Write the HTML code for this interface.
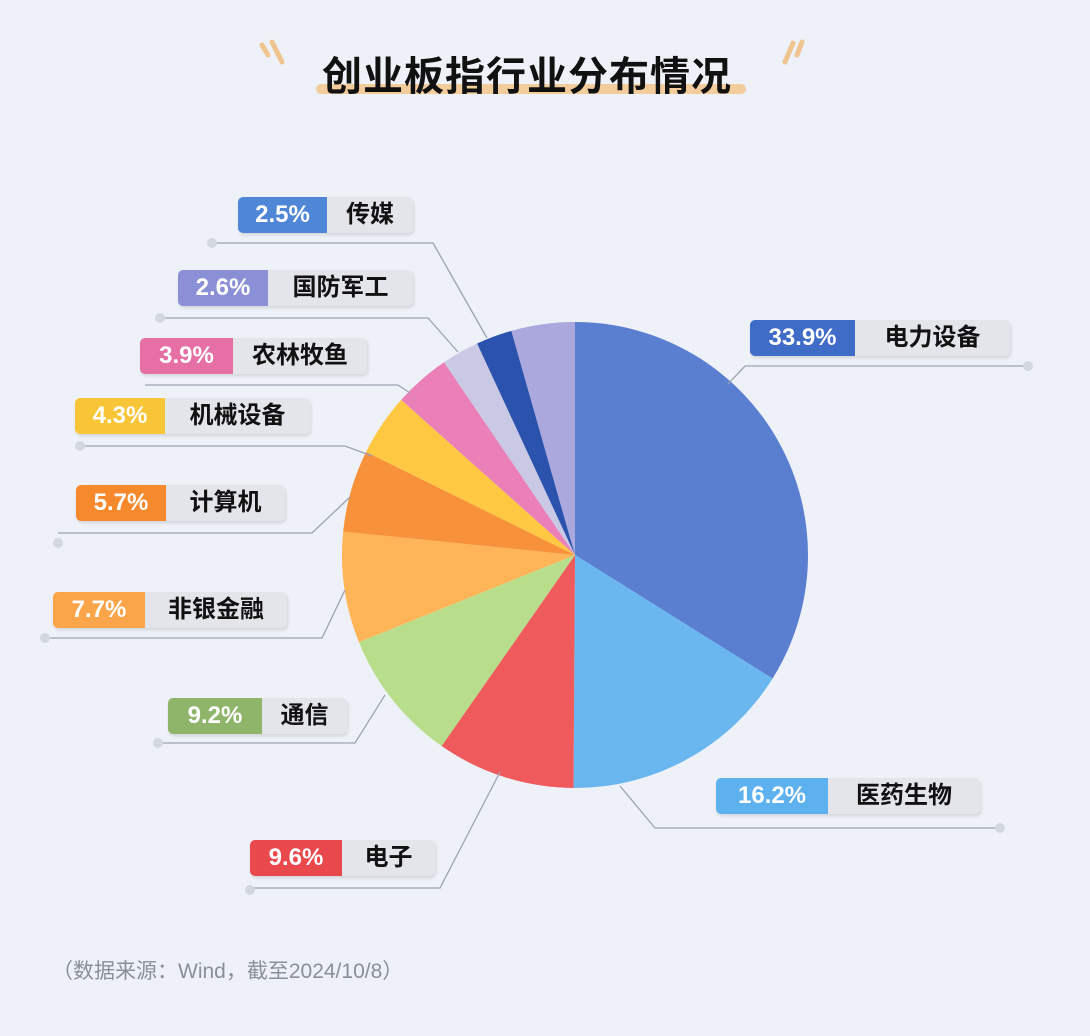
<!DOCTYPE html>
<html><head><meta charset="utf-8"><style>
body{margin:0;width:1090px;height:1036px;background:#eef2f8;font-family:"Liberation Sans","Noto Sans CJK SC",sans-serif;position:relative;overflow:hidden}
.t{position:absolute;left:-18px;width:1090px;top:44px;text-align:center;font-size:40px;font-weight:bold;color:#111;letter-spacing:1px}
.bar{position:absolute;left:316px;top:84px;width:430px;height:10px;background:#f3cc9c;border-radius:5px}
.lab{position:absolute;height:36px;display:flex;border-radius:5px;overflow:hidden;box-shadow:1px 2px 3px rgba(0,0,0,.12)}
.lab .p{color:#fff;font-weight:bold;font-size:24px;line-height:36px;text-align:center}
.lab .n{background:#e3e5ea;color:#111;font-weight:bold;font-size:24px;line-height:36px;text-align:center}
.src{position:absolute;left:52px;top:955px;font-size:21px;color:#8a8f98}
</style></head><body>
<div class="bar"></div>
<div class="t">创业板指行业分布情况</div>
<svg width="1090" height="1036" style="position:absolute;left:0;top:0">
<g stroke="#f0c48e" stroke-width="5" stroke-linecap="round">
<line x1="262" y1="45" x2="268" y2="55"/><line x1="272" y1="42" x2="282" y2="62"/>
<line x1="785" y1="62" x2="793" y2="43"/><line x1="797" y1="55" x2="802" y2="42"/></g>
<g id="pie"></g>
<g fill="none" stroke="#9aa3b2" stroke-width="1.3">
<polyline points="212,243 433,243 487,338"/>
<polyline points="160,318 428,318 458,352"/>
<polyline points="145,385 398,385 410,393"/>
<polyline points="80,446 345,446 372,456"/>
<polyline points="58,533 312,533 350,497"/>
<polyline points="45,638 322,638 345,590"/>
<polyline points="158,743 355,743 385,695"/>
<polyline points="250,888 440,888 500,772"/>
<polyline points="1028,366 745,366 728,384"/>
<polyline points="1000,828 655,828 620,786"/>
</g>
<g fill="#d3d8e0">
<circle cx="212" cy="243" r="5"/><circle cx="160" cy="318" r="5"/><circle cx="80" cy="446" r="5"/>
<circle cx="58" cy="543" r="5"/><circle cx="45" cy="638" r="5"/><circle cx="158" cy="743" r="5"/>
<circle cx="250" cy="890" r="5"/><circle cx="1028" cy="366" r="5"/><circle cx="1000" cy="828" r="5"/></g>
</svg>
<div class="lab" style="left:238px;top:197px"><div class="p" style="width:89px;background:#4f86d6">2.5%</div><div class="n" style="width:86px">传媒</div></div>
<div class="lab" style="left:178px;top:270px"><div class="p" style="width:90px;background:#8b8fd6">2.6%</div><div class="n" style="width:145px">国防军工</div></div>
<div class="lab" style="left:140px;top:338px"><div class="p" style="width:93px;background:#e66fa6">3.9%</div><div class="n" style="width:134px">农林牧鱼</div></div>
<div class="lab" style="left:75px;top:398px"><div class="p" style="width:90px;background:#f8c537">4.3%</div><div class="n" style="width:145px">机械设备</div></div>
<div class="lab" style="left:76px;top:485px"><div class="p" style="width:90px;background:#f5892c">5.7%</div><div class="n" style="width:119px">计算机</div></div>
<div class="lab" style="left:53px;top:592px"><div class="p" style="width:92px;background:#fba54a">7.7%</div><div class="n" style="width:142px">非银金融</div></div>
<div class="lab" style="left:168px;top:698px"><div class="p" style="width:94px;background:#8fb56a">9.2%</div><div class="n" style="width:85px">通信</div></div>
<div class="lab" style="left:250px;top:840px"><div class="p" style="width:92px;background:#e9484d">9.6%</div><div class="n" style="width:93px">电子</div></div>
<div class="lab" style="left:750px;top:320px"><div class="p" style="width:105px;background:#3f6cc7">33.9%</div><div class="n" style="width:155px">电力设备</div></div>
<div class="lab" style="left:716px;top:778px"><div class="p" style="width:112px;background:#5db1ef">16.2%</div><div class="n" style="width:152px">医药生物</div></div>
<div class="src">（数据来源：Wind，截至2024/10/8）</div>
<script>
var d=[[33.9,"#5b7fd0"],[16.2,"#6ab7f0"],[9.6,"#ef5b5c"],[9.2,"#b8de8b"],[7.7,"#ffb457"],[5.7,"#f8923a"],[4.3,"#ffc843"],[3.9,"#eb7fb7"],[2.6,"#c9c9e6"],[2.5,"#2b52ad"],[4.4,"#aaa8dc"]];
var cx=575,cy=555,r=233,a=0,s="";
d.forEach(function(e){var a0=a/100*2*Math.PI;a+=e[0];var a1=a/100*2*Math.PI;
var x0=cx+r*Math.sin(a0),y0=cy-r*Math.cos(a0),x1=cx+r*Math.sin(a1),y1=cy-r*Math.cos(a1);
s+='<path d="M'+cx+','+cy+'L'+x0+','+y0+'A'+r+','+r+' 0 '+(e[0]>50?1:0)+' 1 '+x1+','+y1+'Z" fill="'+e[1]+'"/>';});
document.getElementById("pie").innerHTML=s;
</script>
</body></html>
